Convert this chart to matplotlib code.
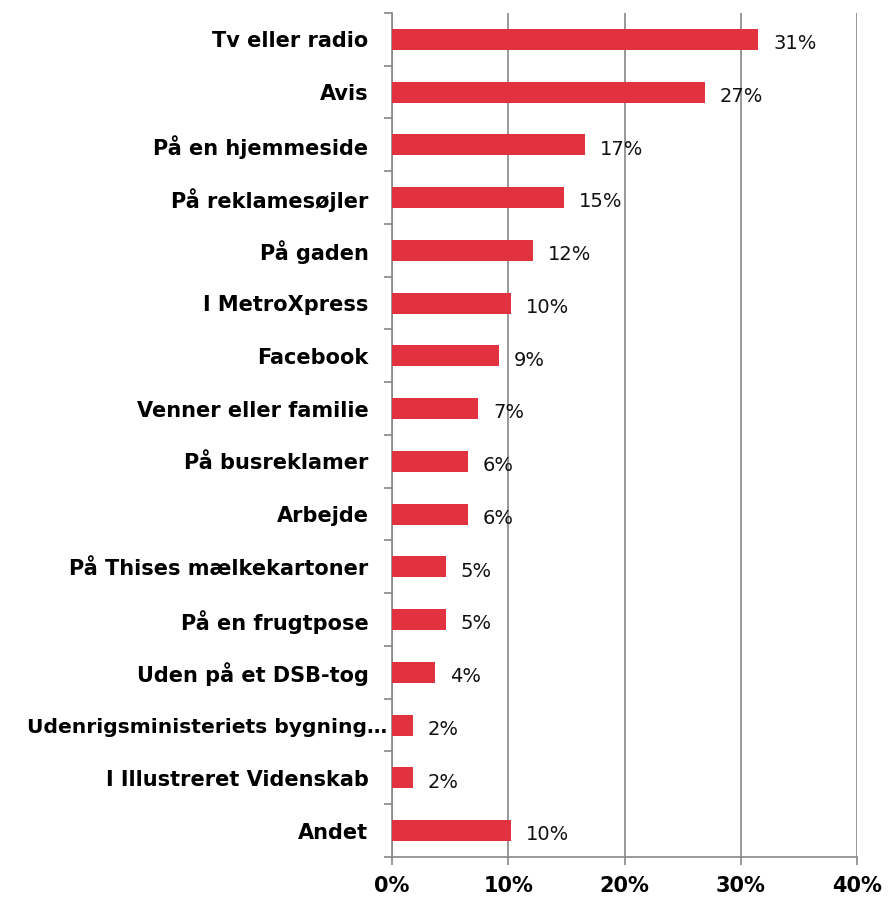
import matplotlib
matplotlib.use("Agg")
import matplotlib.pyplot as plt
import matplotlib.transforms as mtransforms
from matplotlib.ticker import FixedLocator

categories = ["Tv eller radio", "Avis", "På en hjemmeside", "På reklamesøjler", "På gaden",
              "I MetroXpress", "Facebook", "Venner eller familie", "På busreklamer", "Arbejde",
              "På Thises mælkekartoner", "På en frugtpose", "Uden på et DSB-tog",
              "Udenrigsministeriets bygning…", "I Illustreret Videnskab", "Andet"]
values = [31.5, 26.9, 16.6, 14.8, 12.1, 10.2, 9.2, 7.4, 6.5, 6.5, 4.6, 4.6, 3.7, 1.8, 1.8, 10.2]
labels = ["31%", "27%", "17%", "15%", "12%", "10%", "9%", "7%", "6%", "6%", "5%", "5%", "4%", "2%", "2%", "10%"]
xticks = [0, 10, 20, 30, 40]
xticklabels = ["0%", "10%", "20%", "30%", "40%"]

plt.rcParams['font.family'] = ['DejaVu Sans']

fig = plt.figure(figsize=(8.89, 9), dpi=100)
ax = fig.add_axes([0.441, 0.0478, 0.523, 0.9378])

n = len(categories)
ypos = list(range(n))
ax.barh(ypos, values, height=0.4, color="#E3323F", zorder=3)
for y, v, lab in zip(ypos, values, labels):
    ax.text(v + 1.3, y + 0.08, lab, va="center", ha="left", fontsize=14, color="#111111")

ax.set_xlim(0, 40)
ax.set_ylim(n - 0.5, -0.5)
ax.set_xticks(xticks)
ax.set_xticklabels(xticklabels, fontsize=15, fontweight="bold")
ax.set_yticks(ypos)
ax.set_yticklabels(categories, fontsize=15, fontweight="bold")
ax.tick_params(axis="y", length=0, pad=17)
ax.yaxis.set_minor_locator(FixedLocator([i - 0.5 for i in range(n + 1)]))
ax.tick_params(axis="y", which="minor", length=6, color="#888888", width=1.2)
ax.tick_params(axis="x", length=6, color="#888888", width=1.2, pad=8)
ax.grid(axis="x", color="#888888", linewidth=1.2, zorder=0)
for s in ["top", "right"]:
    ax.spines[s].set_visible(False)
ax.spines["left"].set_color("#888888")
ax.spines["left"].set_linewidth(1.2)
ax.spines["bottom"].set_color("#888888")
ax.spines["bottom"].set_linewidth(1.2)

# the long label sits closer to the axis, as in the reference
long_lbl = ax.get_yticklabels()[13]
long_lbl.set_fontsize(14.6)
long_lbl.set_transform(long_lbl.get_transform() +
                       mtransforms.ScaledTranslation(0.19, 0, fig.dpi_scale_trans))

fig.savefig("out.png", dpi=100)
